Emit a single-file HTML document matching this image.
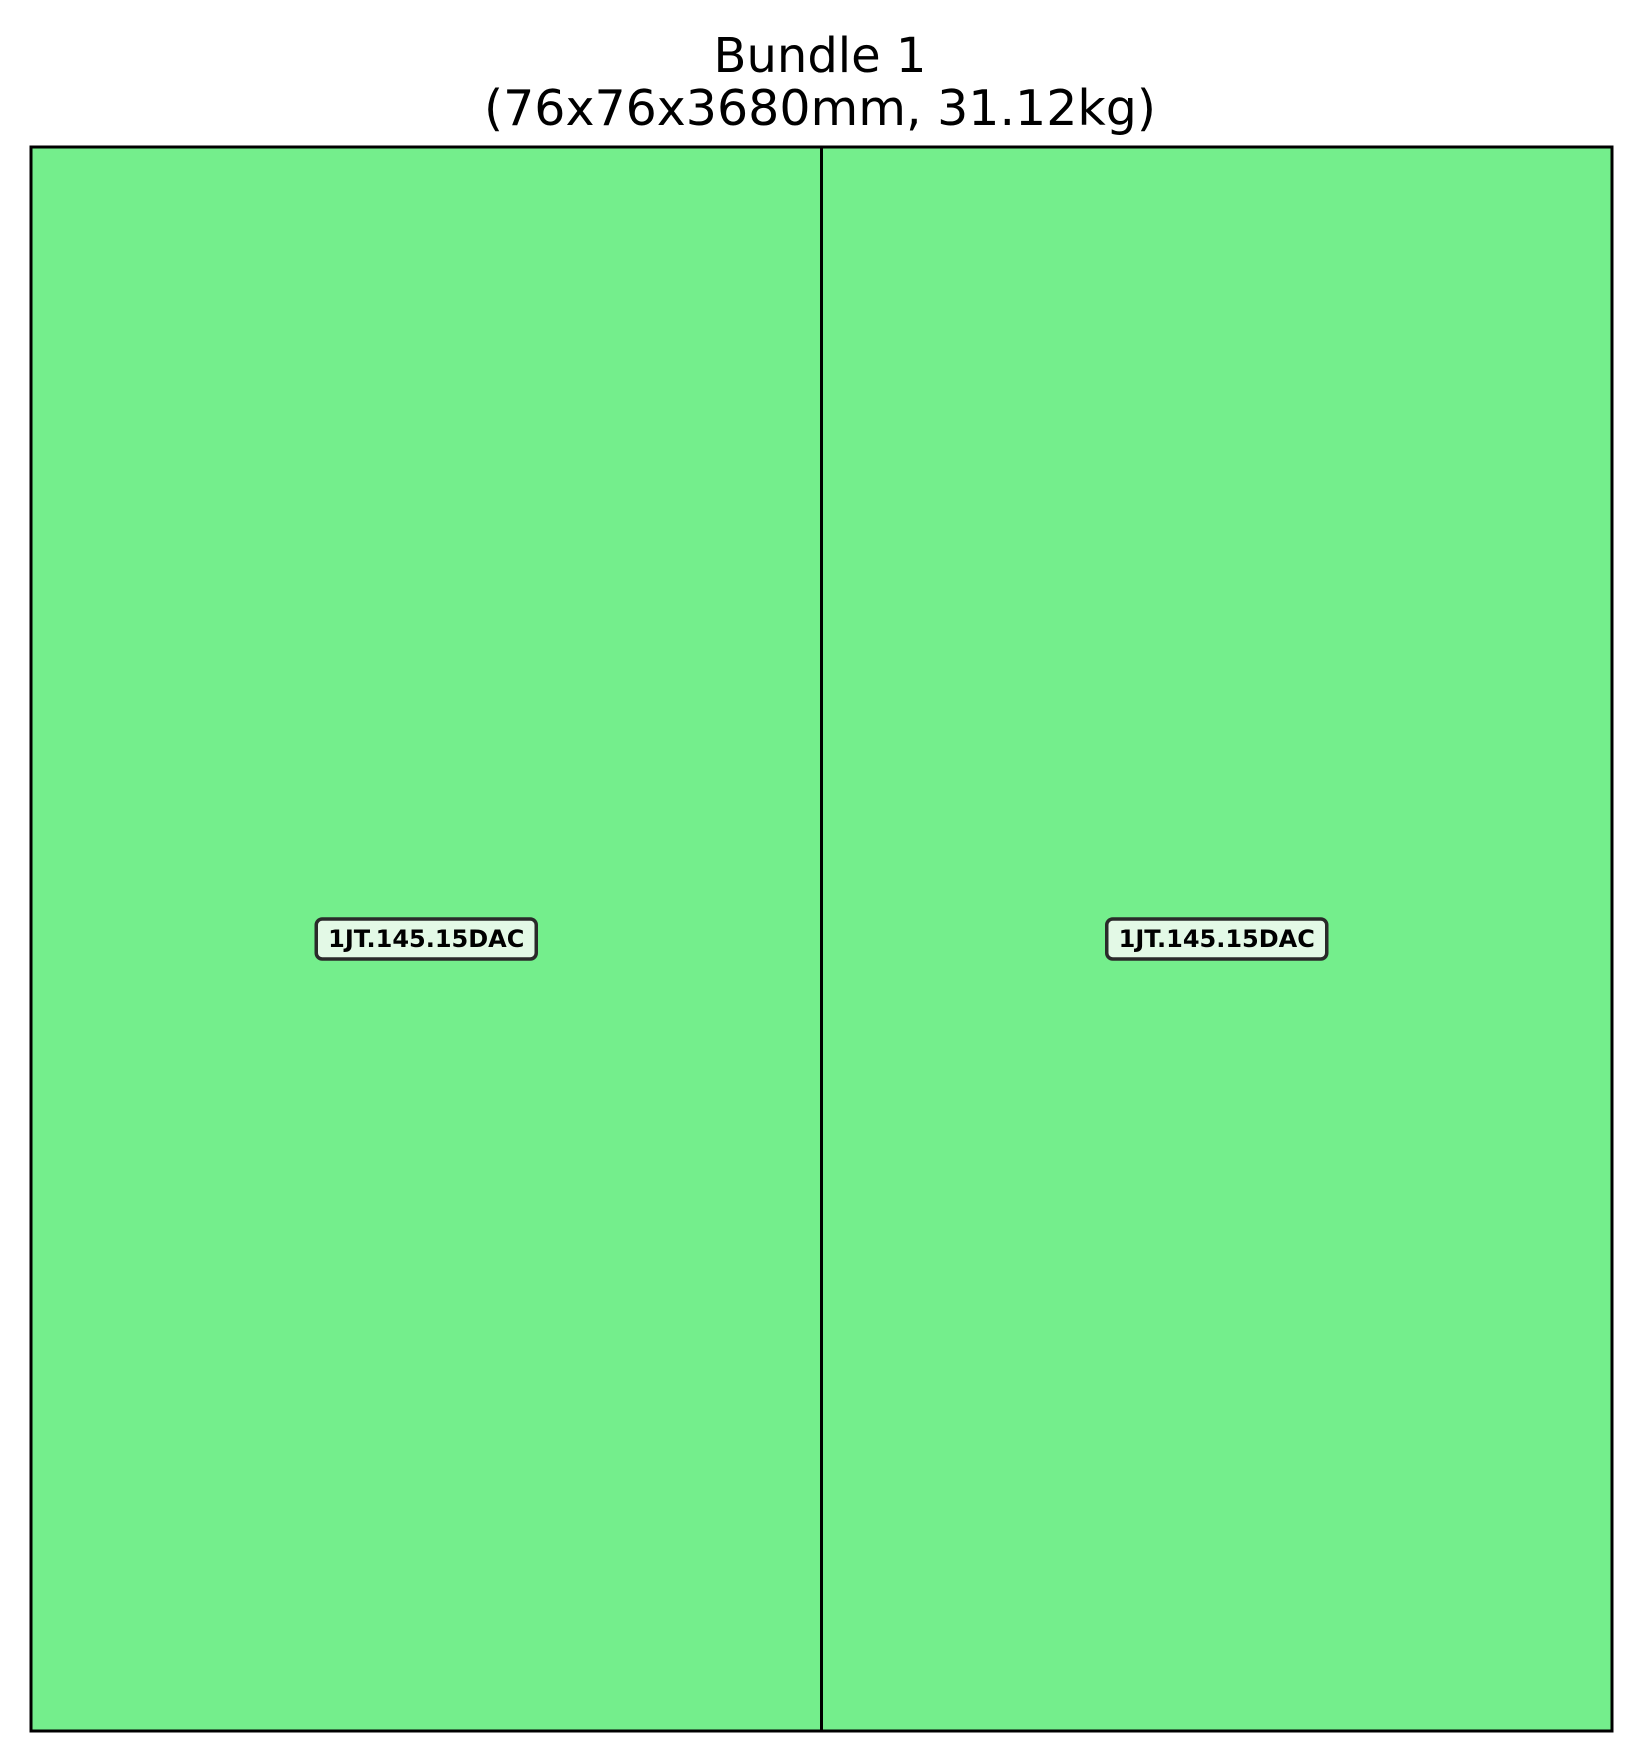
<!DOCTYPE html>
<html><head><meta charset="utf-8"><style>
html,body{margin:0;padding:0;background:#fff;}
svg{display:block;}
</style></head><body>
<svg id="chart" width="1640" height="1759" viewBox="0 0 1640 1759" xmlns="http://www.w3.org/2000/svg">
<text x="820" y="72" text-anchor="middle" font-family="DejaVu Sans, Liberation Sans, sans-serif" font-size="48">Bundle 1</text>
<text x="820" y="125" text-anchor="middle" font-family="DejaVu Sans, Liberation Sans, sans-serif" font-size="49">(76x76x3680mm, 31.12kg)</text>
<g id="pieces"></g>
</svg>
<script>
const pieceLabels = ["1JT.145.15DAC", "1JT.145.15DAC"];
const pieceWidths = [76, 76];
const bundleWidth = 152;
const bundleHeight = 3680;
const pieceHeights = [3680, 3680];

const X0 = 31, X1 = 1612, Y0 = 147, Y1 = 1731;
const xs = v => X0 + v / bundleWidth * (X1 - X0);
const ys = v => Y0 + v / bundleHeight * (Y1 - Y0);
const NS = "http://www.w3.org/2000/svg";
const g = document.getElementById("pieces");
let acc = 0;
pieceWidths.forEach((w, i) => {
  const r = document.createElementNS(NS, "rect");
  
  
  r.setAttribute("x", xs(acc)); r.setAttribute("y", ys(0));
  r.setAttribute("width", xs(acc + w) - xs(acc));
  r.setAttribute("height", ys(pieceHeights[i]) - ys(0));
  r.setAttribute("fill", "#74ee8c"); r.setAttribute("stroke", "#000"); r.setAttribute("stroke-width", "3");
  g.appendChild(r);
  const cx = xs(acc + w / 2), cy = ys(pieceHeights[i] / 2) + 0;
  const lb = document.createElementNS(NS, "rect");
  
  
  lb.setAttribute("x", cx - 110); lb.setAttribute("y", cy - 20);
  lb.setAttribute("width", 220); lb.setAttribute("height", 40);
  lb.setAttribute("rx", 6);
  lb.setAttribute("fill", "#e3f9e6"); lb.setAttribute("stroke", "#2a2a2a"); lb.setAttribute("stroke-width", "3.5");
  g.appendChild(lb);
  const t = document.createElementNS(NS, "text");
  
  
  t.setAttribute("x", cx); t.setAttribute("y", cy + 8);
  t.setAttribute("text-anchor", "middle");
  t.setAttribute("font-family", "DejaVu Sans, Liberation Sans, sans-serif");
  t.setAttribute("font-weight", "bold"); t.setAttribute("font-size", "24");
  t.textContent = pieceLabels[i];
  g.appendChild(t);
  acc += w;
});
</script>
</body></html>
